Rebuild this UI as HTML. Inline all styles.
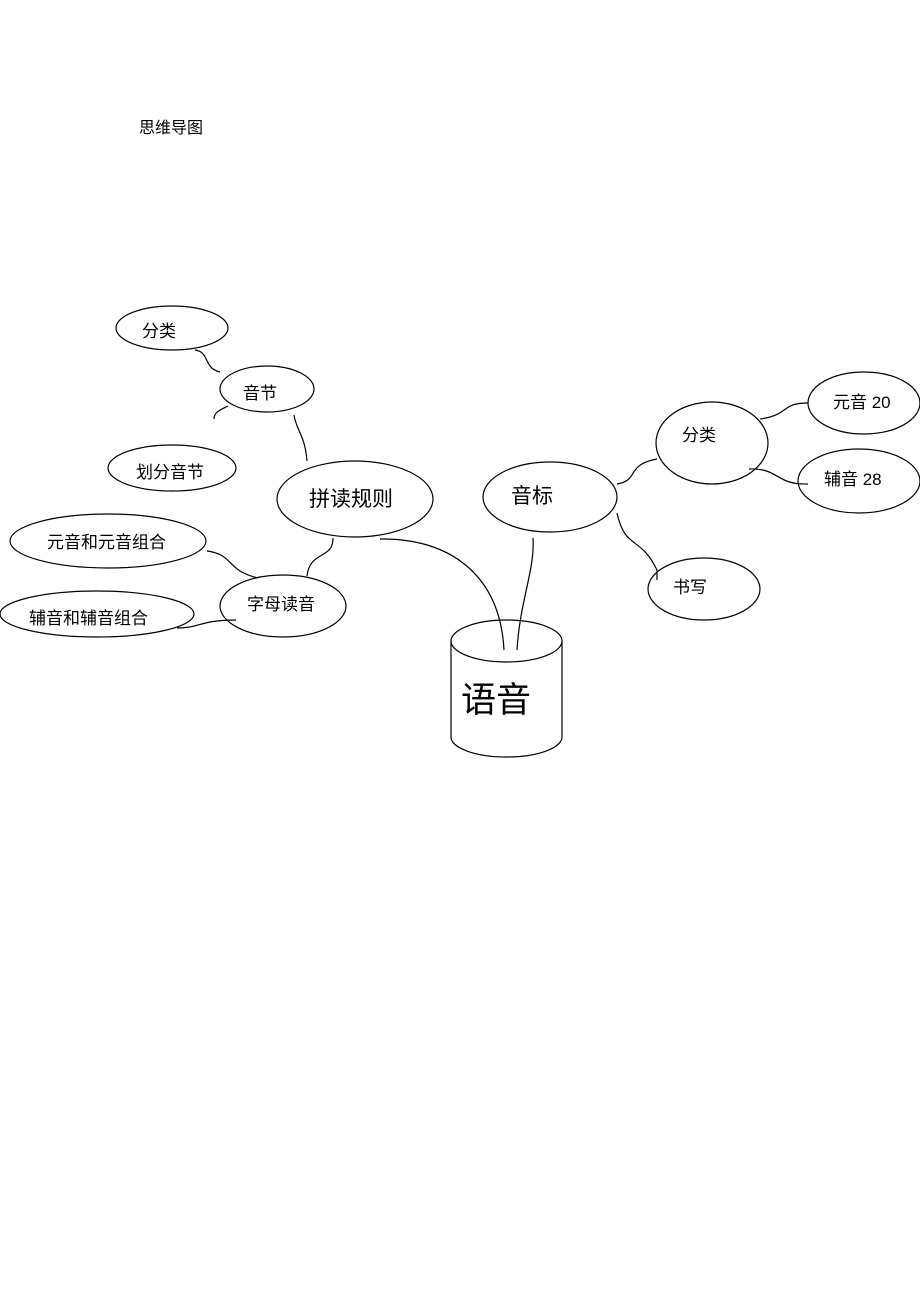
<!DOCTYPE html>
<html><head><meta charset="utf-8"><style>
html,body{margin:0;padding:0;background:#fff}
svg{display:block}
text{font-family:"Liberation Sans","Noto Sans CJK SC",sans-serif;fill:#000}
</style></head><body>
<svg width="920" height="1302" viewBox="0 0 920 1302" xmlns="http://www.w3.org/2000/svg">
<g fill="none" stroke="#000" stroke-width="1.2">
<ellipse cx="172" cy="328" rx="56" ry="22"/>
<ellipse cx="267" cy="389" rx="47" ry="23"/>
<ellipse cx="172" cy="468" rx="64" ry="23"/>
<ellipse cx="355" cy="499" rx="78" ry="38"/>
<ellipse cx="108" cy="541" rx="98" ry="27"/>
<ellipse cx="97" cy="614" rx="97" ry="23"/>
<ellipse cx="283" cy="606" rx="63" ry="31"/>
<ellipse cx="550" cy="497" rx="67" ry="35"/>
<ellipse cx="712" cy="443" rx="56" ry="41"/>
<ellipse cx="864" cy="403" rx="56" ry="31"/>
<ellipse cx="859" cy="481" rx="61" ry="32"/>
<ellipse cx="704" cy="589" rx="56" ry="31"/>
<path d="M451 641 L451 737 A55.5 20 0 0 0 562 737 L562 641"/>
<ellipse cx="506.5" cy="641" rx="55.5" ry="21"/>
<path d="M195 350 C210 352 203 368 220 372"/>
<path d="M228 406 C220 410 214 412 214 419"/>
<path d="M294 415 C296 430 305 435 307 461"/>
<path d="M333 538 C333 560 310 550 307 576"/>
<path d="M380 539 C450 538 500 575 504 650"/>
<path d="M207 551 C235 555 225 570 258 578"/>
<path d="M177 628 C200 628 200 620 236 620"/>
<path d="M533 538 C535 570 520 600 517 650"/>
<path d="M617 484 C640 480 625 465 657 459"/>
<path d="M760 419 C790 415 780 403 808 403"/>
<path d="M749 469 C780 468 775 485 808 484"/>
<path d="M617 513 C625 550 640 535 657 570 L657 580"/>
</g>
<text x="139" y="133" font-size="16">思维导图</text>
<text x="142" y="337" font-size="17">分类</text>
<text x="243" y="399" font-size="17">音节</text>
<text x="136" y="478" font-size="17">划分音节</text>
<text x="309" y="506" font-size="21">拼读规则</text>
<text x="47" y="548" font-size="17">元音和元音组合</text>
<text x="29" y="624" font-size="17">辅音和辅音组合</text>
<text x="247" y="610" font-size="17">字母读音</text>
<text x="511" y="503" font-size="21">音标</text>
<text x="682" y="441" font-size="17">分类</text>
<text x="833" y="408" font-size="17">元音 20</text>
<text x="824" y="485" font-size="17">辅音 28</text>
<text x="673" y="593" font-size="17">书写</text>
<text x="461" y="712" font-size="35">语音</text>
</svg>
</body></html>
